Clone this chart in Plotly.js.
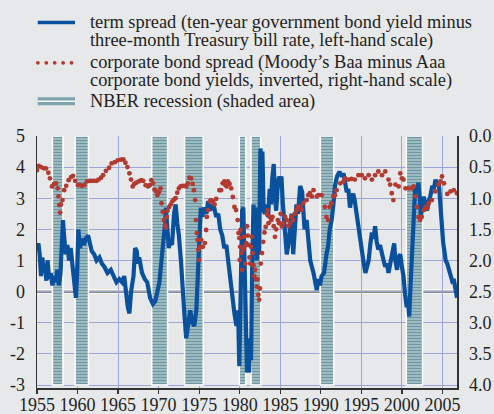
<!DOCTYPE html>
<html><head><meta charset="utf-8">
<script src="https://cdn.plot.ly/plotly-3.0.1.min.js"></script>
<style>html,body{margin:0;padding:0;background:#e7e8ea;}#chart{width:494px;height:414px;}</style>
</head><body><div id="chart"></div>
<script>
// term spread (left scale)
const termYear = [1955.0,1955.17,1955.33,1955.5,1955.66,1955.83,1956.0,1956.15,1956.3,1956.5,1956.7,1956.9,1957.1,1957.3,1957.5,1957.7,1957.9,1958.05,1958.2,1958.4,1958.55,1958.75,1958.95,1959.15,1959.35,1959.55,1959.8,1959.95,1960.1,1960.3,1960.5,1960.8,1961.0,1961.3,1961.5,1961.75,1962.05,1962.35,1962.7,1963.0,1963.3,1963.7,1964.1,1964.5,1964.8,1965.15,1965.5,1965.75,1965.97,1966.2,1966.4,1966.6,1966.9,1967.1,1967.3,1967.45,1967.6,1967.95,1968.3,1968.6,1968.95,1969.3,1969.6,1969.9,1970.1,1970.35,1970.6,1970.8,1970.9,1971.1,1971.25,1971.45,1971.65,1971.9,1972.1,1972.3,1972.5,1972.75,1973.0,1973.2,1973.4,1973.65,1973.9,1974.15,1974.4,1974.65,1974.8,1975.0,1975.2,1975.4,1975.6,1975.9,1976.1,1976.35,1976.6,1976.85,1977.1,1977.35,1977.6,1977.85,1978.1,1978.35,1978.6,1978.85,1979.1,1979.35,1979.6,1979.8,1979.95,1980.15,1980.3,1980.45,1980.6,1980.75,1980.9,1981.0,1981.15,1981.3,1981.4,1981.55,1981.7,1981.85,1982.0,1982.1,1982.25,1982.4,1982.55,1982.7,1982.8,1982.95,1983.1,1983.3,1983.5,1983.7,1983.85,1984.0,1984.2,1984.35,1984.5,1984.7,1984.85,1985.0,1985.15,1985.3,1985.5,1985.8,1986.0,1986.2,1986.4,1986.6,1986.8,1987.0,1987.2,1987.45,1987.7,1987.85,1988.0,1988.25,1988.5,1988.7,1989.1,1989.3,1989.5,1989.7,1989.9,1990.1,1990.4,1990.7,1990.9,1991.1,1991.35,1991.55,1991.75,1992.0,1992.3,1992.6,1992.8,1993.0,1993.2,1993.4,1993.6,1993.8,1994.0,1994.2,1994.45,1994.7,1995.05,1995.3,1995.5,1995.7,1995.9,1996.1,1996.3,1996.5,1996.7,1996.9,1997.1,1997.3,1997.5,1997.75,1997.95,1998.15,1998.35,1998.55,1998.75,1999.05,1999.2,1999.4,1999.6,1999.8,2000.0,2000.2,2000.4,2000.6,2000.75,2000.9,2001.1,2001.35,2001.5,2001.65,2001.85,2002.05,2002.2,2002.35,2002.5,2002.7,2002.9,2003.1,2003.3,2003.5,2003.75,2003.95,2004.15,2004.35,2004.55,2004.75,2004.95,2005.1,2005.25,2005.4,2005.6,2005.8,2006.0,2006.2,2006.4,2006.6,2006.8];
const termValue = [1.4,1.55,1.2,0.5,1.1,0.6,0.9,0.35,1.0,0.4,0.6,0.2,0.5,0.3,0.7,0.2,0.6,2.0,2.3,1.6,1.2,1.5,1.0,1.4,0.9,0.4,-0.2,0.6,2.0,1.4,1.7,1.5,1.7,1.8,1.5,1.3,1.2,1.0,1.1,0.9,0.8,0.6,0.7,0.5,0.3,0.4,0.3,0.5,-0.1,-0.5,-0.7,0.0,0.5,1.4,1.3,0.9,1.1,0.6,0.4,0.3,-0.2,-0.4,-0.3,0.0,0.3,1.0,1.6,2.2,2.7,1.8,1.4,1.6,1.5,2.5,2.8,2.2,1.8,1.0,0.2,-0.8,-1.5,-1.1,-0.6,-1.0,-1.1,-0.6,0.5,2.0,2.7,2.4,2.7,2.5,2.9,2.6,2.8,2.7,2.4,2.5,2.0,1.8,1.4,1.5,0.9,0.2,-0.2,-0.7,-1.1,-0.6,-2.4,0.5,2.6,2.7,0.5,-2.0,-2.6,-2.3,-2.6,-1.5,-2.2,1.0,2.8,1.5,2.7,1.0,2.0,1.2,4.6,4.2,4.5,2.6,2.5,2.8,2.4,3.3,2.8,3.6,4.1,3.0,2.6,3.4,3.7,3.5,3.7,2.9,2.2,1.2,1.5,2.1,2.5,1.2,2.0,2.8,2.5,3.4,3.2,2.6,2.0,2.3,1.6,1.0,0.6,0.3,0.05,0.4,0.2,0.5,0.6,1.2,1.45,2.0,2.3,2.8,3.4,3.7,3.85,3.7,3.8,3.5,3.2,3.3,2.7,3.0,3.15,2.9,2.4,1.9,1.45,0.9,0.6,0.8,1.0,1.5,1.9,1.7,2.1,1.6,1.35,1.5,1.2,1.0,0.8,0.9,0.6,0.9,1.2,1.55,1.0,0.7,1.1,1.2,0.8,0.5,-0.1,-0.5,-0.3,-0.8,0.35,1.65,2.6,3.4,3.2,3.5,3.0,2.4,2.8,3.05,2.8,2.6,2.9,3.05,3.4,3.3,3.6,3.4,3.5,2.7,2.0,1.55,1.3,1.0,0.9,0.7,0.6,0.35,0.4,0.05,-0.2];

// corporate bond spread (right scale, inverted)
const corpYear = [1955.0,1955.2,1955.5,1955.85,1956.1,1956.4,1956.6,1956.85,1957.1,1957.35,1957.55,1957.65,1957.75,1957.85,1957.95,1958.15,1958.35,1958.6,1958.9,1959.2,1959.45,1959.7,1960.05,1960.3,1960.55,1960.85,1961.15,1961.45,1961.75,1962.05,1962.35,1962.6,1962.9,1963.15,1963.5,1963.9,1964.2,1964.6,1964.95,1965.35,1965.65,1965.9,1966.15,1966.4,1966.6,1966.8,1967.0,1967.25,1967.55,1967.85,1968.1,1968.4,1968.7,1968.9,1969.1,1969.3,1969.5,1969.7,1969.85,1970.05,1970.25,1970.35,1970.5,1970.65,1970.8,1970.9,1971.0,1971.1,1971.3,1971.5,1971.7,1971.9,1972.1,1972.3,1972.5,1972.7,1972.95,1973.2,1973.4,1973.6,1973.8,1974.0,1974.2,1974.35,1974.5,1974.6,1974.7,1974.8,1974.9,1975.0,1975.1,1975.25,1975.45,1975.7,1975.85,1975.95,1976.1,1976.3,1976.45,1976.7,1976.9,1977.1,1977.5,1977.7,1977.9,1978.1,1978.25,1978.4,1978.55,1978.75,1978.95,1979.15,1979.35,1979.55,1979.75,1979.85,1979.95,1980.0,1980.05,1980.1,1980.2,1980.3,1980.4,1980.5,1980.6,1980.7,1980.8,1980.9,1981.0,1981.1,1981.2,1981.3,1981.4,1981.5,1981.6,1981.7,1981.8,1981.9,1982.0,1982.1,1982.2,1982.3,1982.4,1982.5,1982.6,1982.75,1982.9,1983.05,1983.2,1983.35,1983.45,1983.55,1983.7,1983.9,1984.05,1984.2,1984.35,1984.5,1984.7,1984.85,1985.05,1985.2,1985.35,1985.6,1985.8,1986.0,1986.2,1986.4,1986.6,1986.8,1987.0,1987.2,1987.45,1987.65,1987.85,1988.25,1988.45,1988.65,1988.9,1989.1,1989.5,1989.7,1990.1,1990.5,1990.7,1990.9,1991.1,1991.3,1991.55,1991.75,1991.95,1992.4,1992.8,1993.0,1993.4,1993.8,1994.2,1994.65,1995.05,1995.45,1995.9,1996.3,1996.7,1997.1,1997.55,1997.95,1998.35,1998.55,1998.75,1998.95,1999.2,1999.6,1999.8,2000.0,2000.2,2000.45,2000.85,2001.25,2001.45,2001.65,2001.85,2002.05,2002.25,2002.45,2002.7,2002.9,2003.1,2003.3,2003.7,2004.1,2004.5,2004.75,2004.95,2005.2,2005.6,2006.0,2006.4,2006.8];
const corpValue = [0.55,0.48,0.5,0.52,0.52,0.59,0.68,0.81,0.77,0.76,0.84,0.97,1.11,1.23,1.1,1.03,0.87,0.8,0.71,0.66,0.64,0.72,0.79,0.79,0.8,0.79,0.73,0.72,0.72,0.72,0.72,0.7,0.67,0.63,0.56,0.51,0.44,0.42,0.39,0.38,0.375,0.43,0.5,0.6,0.7,0.81,0.77,0.75,0.73,0.71,0.72,0.79,0.81,0.79,0.71,0.76,0.86,0.89,0.95,0.9,0.84,1.08,1.22,1.35,1.43,1.47,1.3,1.2,1.14,1.1,1.05,1.02,1.0,0.91,0.84,0.81,0.8,0.8,0.81,0.76,0.67,0.68,0.77,0.87,1.03,1.35,1.56,1.67,1.83,1.99,1.78,1.67,1.78,1.72,1.51,1.3,1.19,1.05,1.03,1.05,1.1,1.01,0.87,0.87,0.76,0.73,0.79,0.81,0.73,0.77,0.84,0.98,1.14,1.19,1.35,1.56,1.64,1.99,1.78,1.51,1.88,2.15,1.83,1.62,1.78,2.05,1.72,1.45,1.6,1.75,1.95,2.05,1.78,1.62,1.88,2.08,2.25,2.15,2.3,2.42,2.3,2.55,2.63,2.45,2.05,1.88,1.7,1.55,1.46,1.25,1.19,1.4,1.3,1.35,1.3,1.45,1.62,1.5,1.35,1.4,1.25,1.45,1.4,1.3,1.35,1.45,1.4,1.3,1.35,1.25,1.19,1.14,1.14,1.19,1.08,1.03,0.95,0.92,0.97,0.87,0.97,0.95,0.95,1.14,1.3,1.35,1.14,1.08,0.97,0.95,0.87,0.76,0.73,0.68,0.7,0.69,0.7,0.63,0.63,0.68,0.63,0.7,0.63,0.57,0.63,0.57,0.7,0.78,0.92,1.03,0.78,0.81,0.6,0.68,0.7,0.84,0.84,0.84,0.81,0.97,1.14,1.3,1.35,1.3,1.19,1.14,1.16,1.08,1.03,0.89,0.78,0.73,0.65,0.76,0.93,0.89,0.87,0.92];

// NBER recessions (shaded)
const recessionStart = [1956.9,1959.7,1969.15,1973.2,1979.95,1981.4,1989.95,2000.55];
const recessionEnd   = [1958.2,1961.35,1971.1,1975.5,1980.75,1982.6,1991.6,2002.55];

const xTickVals = [1955,1960,1965,1970,1975,1980,1985,1990,1995,2000,2005];
const xTickText = ['1955','1960','1965','1970','1975','1980','1985','1990','1995','2000','2005'];
const leftTickVals = [-3,-2,-1,0,1,2,3,4,5];
const leftTickText = ['-3','-2','-1','0','1','2','3','4','5'];
const rightTickVals = [0,0.5,1,1.5,2,2.5,3,3.5,4];
const rightTickText = ['0.0','0.5','1.0','1.5','2.0','2.5','3.0','3.5','4.0'];
const legendText = [
  'term spread (ten-year government bond yield minus',
  'three-month Treasury bill rate, left-hand scale)',
  'corporate bond spread (Moody\u2019s Baa minus Aaa',
  'corporate bond yields, inverted, right-hand scale)',
  'NBER recession (shaded area)'
];

const TERM_COLOR = '#0a519d', CORP_COLOR = '#b23a31', TEXT = '#231f20';
const BG = '#e7e8ea', GRID = '#9ca6d6', AXIS = '#333333';
const FONT = 'Liberation Serif, Times New Roman, serif';

// pixel -> paper helpers for legend placement (plot area 37..457 x 136..388)
const PX = p => (p - 37) / 420;
const PY = p => (388 - p) / 252;

const recMid = recessionStart.map((s, i) => (s + recessionEnd[i]) / 2);
const recWidth = recessionStart.map((s, i) => recessionEnd[i] - s);
const recHeight = recessionStart.map(() => 8);

const traces = [
  {type:'bar', x:recMid, width:recWidth, y:recHeight, base:-3, yaxis:'y',
   marker:{color:'#6c96a1', pattern:{shape:'-', fgcolor:'#6c96a1', bgcolor:'#a8c2c8', size:3, solidity:0.45},
           line:{color:'#ffffff', width:1.5}},
   hoverinfo:'skip', showlegend:false},
  {type:'scatter', mode:'lines', x:termYear, y:termValue, yaxis:'y',
   line:{color:TERM_COLOR, width:4.2}, showlegend:false},
  {type:'scatter', mode:'markers', x:corpYear, y:corpValue, yaxis:'y2',
   marker:{color:CORP_COLOR, size:4.8}, showlegend:false}
];

const shapes = [
  {type:'line', xref:'paper', x0:0, x1:1, yref:'y', y0:0, y1:0, layer:'between', line:{color:'#ffffff', width:4.5}},
  {type:'line', xref:'paper', x0:0, x1:1, yref:'y', y0:0, y1:0, layer:'between', line:{color:'#111111', width:1.8}},
  // legend symbols
  {type:'line', xref:'paper', yref:'paper', x0:PX(37.7), x1:PX(75), y0:PY(22.5), y1:PY(22.5), line:{color:TERM_COLOR, width:3.5}},
  {type:'rect', xref:'paper', yref:'paper', x0:PX(37.7), x1:PX(75), y0:PY(105.3), y1:PY(97.3), fillcolor:'#7fa4ae', line:{width:0}},
  {type:'line', xref:'paper', yref:'paper', x0:PX(37.7), x1:PX(75), y0:PY(101.3), y1:PY(101.3), line:{color:'#f4f6f7', width:1.4}}
];
[37.9, 46.3, 54.7, 63.1, 71.5].forEach(cx => {
  shapes.push({type:'circle', xref:'paper', yref:'paper', x0:PX(cx-1.9), x1:PX(cx+1.9), y0:PY(62.8+1.9), y1:PY(62.8-1.9), fillcolor:CORP_COLOR, line:{width:0}});
});

const legendCenters = [22.3, 40.0, 62.4, 80.6, 101.6];
const annotations = legendText.map((t, i) => ({
  xref:'paper', yref:'paper', x:PX(88), y:PY(legendCenters[i]), xanchor:'left', yanchor:'middle',
  text:t, showarrow:false, font:{family:FONT, size:18.4, color:TEXT}
}));

const layout = {
  width:494, height:414,
  margin:{l:37, r:37, t:136, b:26, pad:0},
  paper_bgcolor:BG, plot_bgcolor:BG,
  font:{family:FONT, size:18, color:TEXT},
  showlegend:false, bargap:0,
  xaxis:{range:[1955, 2006.8], tickmode:'array', tickvals:xTickVals, ticktext:xTickText,
         ticks:'outside', ticklen:4, tickwidth:1.3, tickcolor:AXIS, ticklabelstandoff:-4,
         showgrid:true, gridcolor:GRID, gridwidth:1, zeroline:false,
         showline:true, linecolor:AXIS, linewidth:1.5, tickfont:{size:18}, fixedrange:true},
  yaxis:{range:[-3.0964, 5], tickmode:'array', tickvals:leftTickVals, ticktext:leftTickText,
         ticks:'', showgrid:true, gridcolor:GRID, gridwidth:1, zeroline:false,
         showline:true, linecolor:AXIS, linewidth:1.5, ticklabelstandoff:7, tickfont:{size:18}, fixedrange:true},
  yaxis2:{overlaying:'y', side:'right', range:[4.0482, 0], tickmode:'array', tickvals:rightTickVals, ticktext:rightTickText,
          ticks:'', showgrid:false, zeroline:false, showline:true, linecolor:AXIS, linewidth:1.5,
          ticklabelstandoff:7, tickfont:{size:18}, fixedrange:true},
  shapes:shapes, annotations:annotations
};

Plotly.newPlot('chart', traces, layout, {displayModeBar:false, staticPlot:true});
</script></body></html>
